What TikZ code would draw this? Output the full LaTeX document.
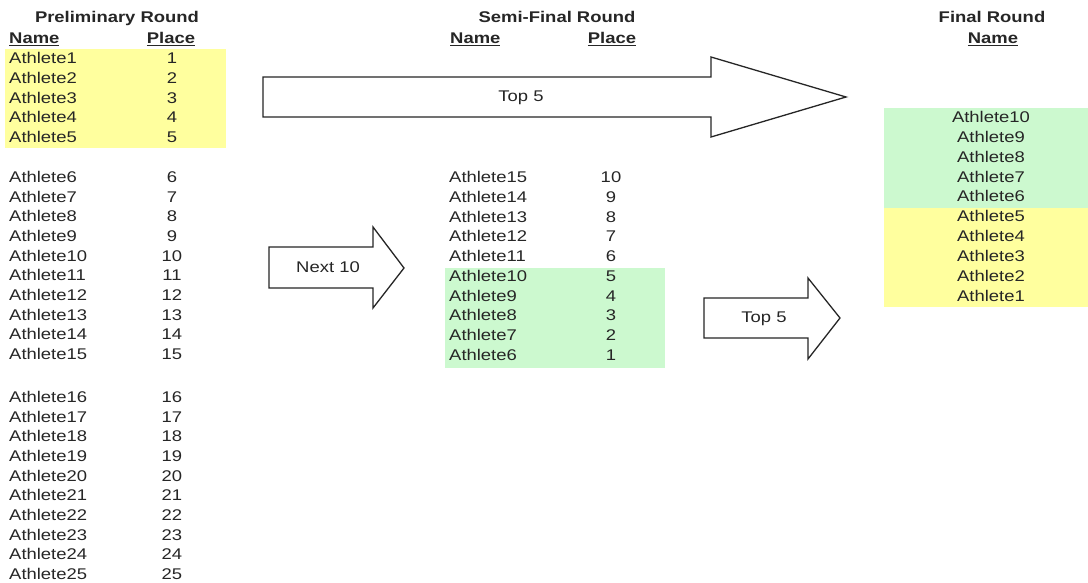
\documentclass[tikz,border=0pt]{standalone}
\usepackage{fontspec}
\setmainfont[FakeStretch=1.19]{Liberation Sans}
\definecolor{hiyellow}{HTML}{FFFF9E}
\definecolor{higreen}{HTML}{CCF9CF}
\begin{document}
\begin{tikzpicture}[x=1pt,y=-1pt,
  every node/.style={font=\fontsize{15.5}{18}\selectfont, inner sep=0pt, text height=0.72em, text depth=0pt, text=black!85, yshift=-1pt},
  hdr/.style={font=\fontsize{15.5}{18}\selectfont\bfseries},
  namecell/.style={anchor=west},
  placecell/.style={anchor=center},
  blockarrow/.style={draw=black!85, line width=1.3pt, fill=white, line join=miter}]
\useasboundingbox (0,0) rectangle (1088,583);
\fill[white] (0,0) rectangle (1088,583);
% highlight bands
\fill[hiyellow] (5,49) rectangle (226,148);
\fill[higreen] (445,268) rectangle (665,368);
\fill[higreen] (884,108) rectangle (1088,208);
\fill[hiyellow] (884,208) rectangle (1088,307);
% headers
\node[hdr] (hP) at (117,18) {Preliminary Round};
\node[hdr,anchor=west] (hPn) at (9,39) {\underline{Name}};
\node[hdr] (hPp) at (171,39) {\underline{Place}};
\node[hdr] (hS) at (557,18) {Semi-Final Round};
\node[hdr,anchor=west] (hSn) at (450,39) {\underline{Name}};
\node[hdr] (hSp) at (612,39) {\underline{Place}};
\node[hdr] (hF) at (992,18) {Final Round};
\node[hdr] (hFn) at (993,39) {\underline{Name}};
% preliminary
\foreach \i in {1,...,5}{
  \pgfmathsetmacro{\yy}{59+(\i-1)*19.75}
  \node[namecell] (pn\i) at (9,\yy) {Athlete\i};
  \node[placecell] (pp\i) at (172,\yy) {\i};
}
\foreach \i in {6,...,15}{
  \pgfmathsetmacro{\yy}{178+(\i-6)*19.67}
  \node[namecell] (pn\i) at (9,\yy) {Athlete\i};
  \node[placecell] (pp\i) at (172,\yy) {\i};
}
\foreach \i in {16,...,25}{
  \pgfmathsetmacro{\yy}{398+(\i-16)*19.67}
  \node[namecell] (pn\i) at (9,\yy) {Athlete\i};
  \node[placecell] (pp\i) at (172,\yy) {\i};
}
% semi-final
\foreach \k in {1,...,10}{
  \pgfmathsetmacro{\yy}{178+(\k-1)*19.75}
  \pgfmathtruncatemacro{\aa}{16-\k}
  \pgfmathtruncatemacro{\pl}{11-\k}
  \node[namecell] (sn\k) at (449,\yy) {Athlete\aa};
  \node[placecell] (sp\k) at (611,\yy) {\pl};
}
% final
\foreach \k in {1,...,10}{
  \pgfmathsetmacro{\yy}{118+(\k-1)*19.85}
  \pgfmathtruncatemacro{\aa}{11-\k}
  \node[placecell] (fn\k) at (991,\yy) {Athlete\aa};
}
% block arrows
\draw[blockarrow] (263,77) -- (711,77) -- (711,57) -- (846,97) -- (711,137) -- (711,117) -- (263,117) -- cycle;
\node (a1) at (521,97) {Top 5};
\draw[blockarrow] (269,247) -- (373,247) -- (373,227) -- (404,268) -- (373,308) -- (373,288) -- (269,288) -- cycle;
\node (a2) at (328,268) {Next 10};
\draw[blockarrow] (704,298) -- (808,298) -- (808,278) -- (840,318) -- (808,359) -- (808,338) -- (704,338) -- cycle;
\node (a3) at (764,318) {Top 5};
\end{tikzpicture}
\end{document}
